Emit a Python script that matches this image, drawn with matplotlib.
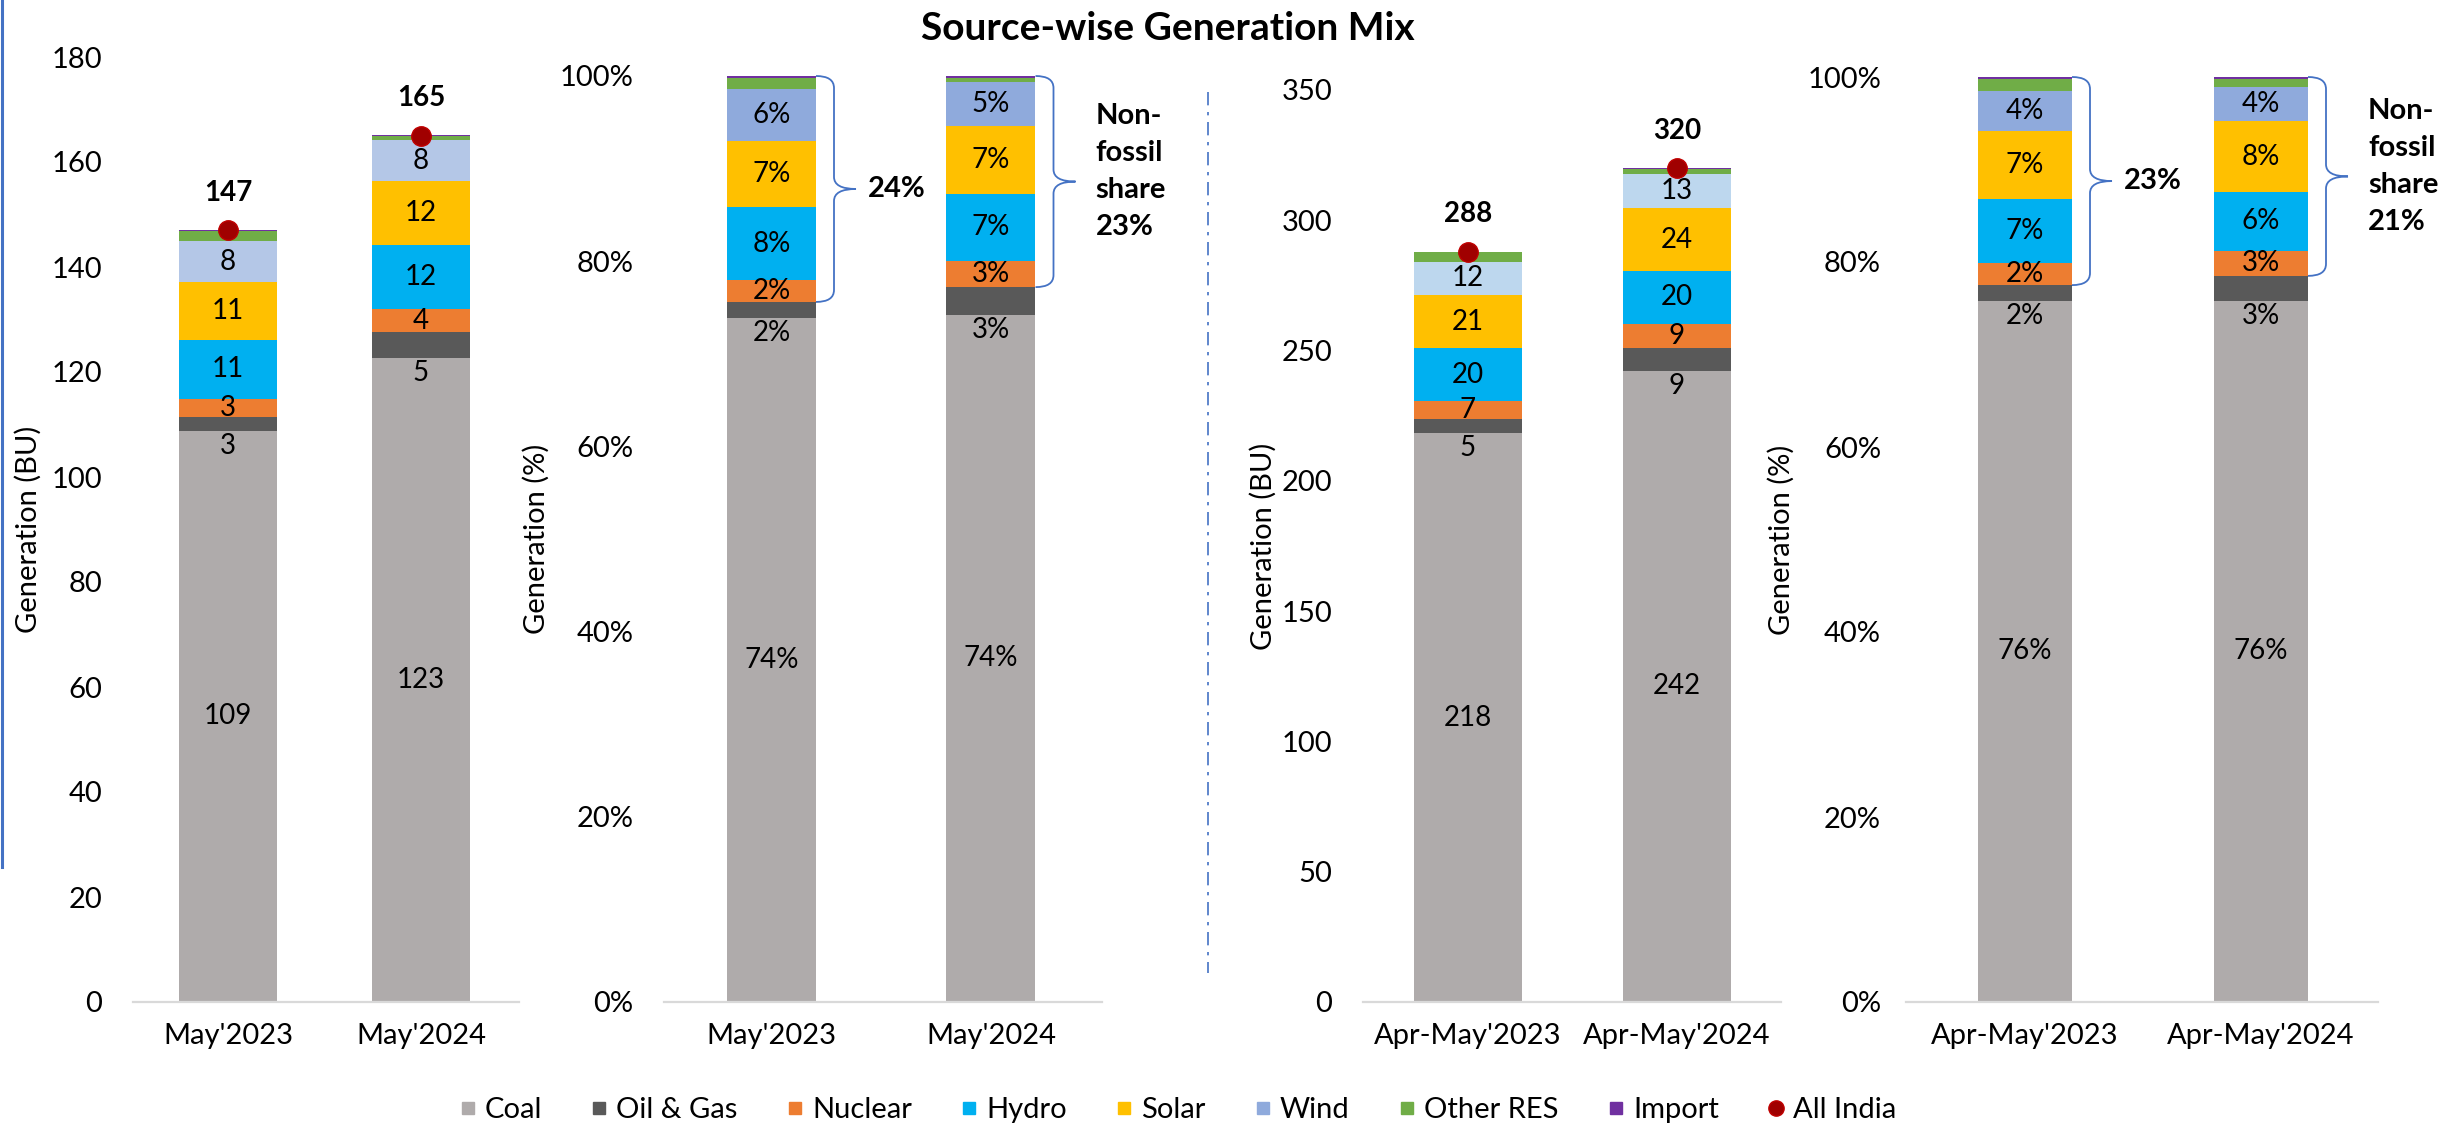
import matplotlib
matplotlib.use("Agg")
import matplotlib.pyplot as plt
from matplotlib.path import Path
from matplotlib.patches import PathPatch
from matplotlib.lines import Line2D
from matplotlib.transforms import IdentityTransform

# ---------------- data ----------------
sources = ["Coal", "Oil & Gas", "Nuclear", "Hydro", "Solar", "Wind", "Other RES", "Import"]
months = ["May'2023", "May'2024"]
ytd = ["Apr-May'2023", "Apr-May'2024"]

# Generation in BU, May
coal_m = [108.8, 122.7]
oil_m = [2.7, 4.9]
nuclear_m = [3.4, 4.4]
hydro_m = [11.2, 12.2]
solar_m = [11.0, 12.1]
wind_m = [7.8, 7.8]
other_m = [1.9, 0.8]
import_m = [0.3, 0.3]
total_m = [147, 165]

# Share in %, May
coal_mp = [73.9, 74.2]
oil_mp = [1.7, 3.0]
nuclear_mp = [2.4, 2.8]
hydro_mp = [7.8, 7.3]
solar_mp = [7.2, 7.3]
wind_mp = [5.6, 4.8]
other_mp = [1.2, 0.4]
import_mp = [0.2, 0.2]
share_m = ["24%", "Non-\nfossil\nshare\n23%"]

# Generation in BU, Apr-May
coal_y = [218.3, 242.3]
oil_y = [5.4, 8.8]
nuclear_y = [6.9, 9.2]
hydro_y = [20.2, 20.2]
solar_y = [20.7, 24.2]
wind_y = [12.4, 13.0]
other_y = [3.8, 2.0]
import_y = [0.3, 0.3]
total_y = [288, 320]

# Share in %, Apr-May
coal_yp = [75.8, 75.8]
oil_yp = [1.7, 2.7]
nuclear_yp = [2.4, 2.7]
hydro_yp = [6.9, 6.4]
solar_yp = [7.4, 7.6]
wind_yp = [4.3, 3.7]
other_yp = [1.3, 0.9]
import_yp = [0.2, 0.2]
share_y = ["23%", "Non-\nfossil\nshare\n21%"]

# ---------------- style ----------------
W, H, DPI = 2450, 1129, 100
plt.rcParams['font.family'] = ['Lato', 'DejaVu Sans']
FS = 21
FSB = 20
colors = {"Coal": "#AFABAB", "Oil & Gas": "#595959", "Nuclear": "#ED7D31", "Hydro": "#00B0F0",
          "Solar": "#FFC000", "Wind": "#8FAADC", "Other RES": "#70AD47", "Import": "#7030A0"}
BLUE = "#4472C4"

fig = plt.figure(figsize=(W / DPI, H / DPI), dpi=DPI)
fig.patch.set_facecolor("white")


def make_axes(x0, x1, ytop, ybot):
    return fig.add_axes([x0 / W, 1 - ybot / H, (x1 - x0) / W, (ybot - ytop) / H])


def brace(ax, xedge, ybot, ytop, dv=18, dt=40, r=12):
    (xe, yb) = ax.transData.transform((xedge, ybot))
    (_, yt) = ax.transData.transform((xedge, ytop))
    xv, xt = xe + dv, xe + dt
    ym = (yt + yb) / 2
    verts = [(xe, yt), (xv, yt), (xv, yt - r), (xv, ym + r), (xv, ym), (xt, ym),
             (xv, ym), (xv, ym - r), (xv, yb + r), (xv, yb), (xe, yb)]
    codes = [Path.MOVETO, Path.CURVE3, Path.CURVE3, Path.LINETO, Path.CURVE3, Path.CURVE3,
             Path.CURVE3, Path.CURVE3, Path.LINETO, Path.CURVE3, Path.CURVE3]
    fig.add_artist(PathPatch(Path(verts, codes), fill=False, ec=BLUE, lw=1.3,
                             transform=IdentityTransform()))
    return xt, ym


panels = [
    dict(px=(133, 519, 57, 1002), centers=(228, 421), barw=98, ylim=180, step=20, pct=False,
         cats=months, wind="#B4C7E7", ylabel="Generation (BU)", ylx=28, pad=22,
         series=[coal_m, oil_m, nuclear_m, hydro_m, solar_m, wind_m, other_m, import_m],
         totals=total_m, shares=None),
    dict(px=(664, 1102, 76, 1002), centers=(771.5, 991), barw=89, ylim=100, step=20, pct=True,
         cats=months, wind="#8FAADC", ylabel="Generation (%)", ylx=536, pad=22,
         series=[coal_mp, oil_mp, nuclear_mp, hydro_mp, solar_mp, wind_mp, other_mp, import_mp],
         totals=None, shares=share_m),
    dict(px=(1363, 1781, 90, 1002), centers=(1468, 1677), barw=108, ylim=350, step=50, pct=False,
         cats=ytd, wind="#BDD7EE", ylabel="Generation (BU)", ylx=1263, pad=22,
         series=[coal_y, oil_y, nuclear_y, hydro_y, solar_y, wind_y, other_y, import_y],
         totals=total_y, shares=None),
    dict(px=(1906, 2378, 77, 1002), centers=(2025, 2261), barw=94, ylim=100, step=20, pct=True,
         cats=ytd, wind="#8FAADC", ylabel="Generation (%)", ylx=1781, pad=18,
         series=[coal_yp, oil_yp, nuclear_yp, hydro_yp, solar_yp, wind_yp, other_yp, import_yp],
         totals=None, shares=share_y),
]

for p in panels:
    x0, x1, ytop, ybot = p["px"]
    ax = make_axes(x0, x1, ytop, ybot)
    c0, c1 = p["centers"]
    unit = c1 - c0
    ax.set_xlim((x0 - c0) / unit, (x1 - c0) / unit)
    ax.set_ylim(0, p["ylim"])
    bw = p["barw"] / unit
    xs = list(range(len(p["cats"])))
    bottoms = [0.0] * len(xs)
    tops = {}
    for name, vals in zip(sources, p["series"]):
        col = p["wind"] if name == "Wind" else colors[name]
        ax.bar(xs, vals, width=bw, bottom=bottoms, color=col, edgecolor="none", zorder=2)
        for i, v in enumerate(vals):
            txt = f"{v:.0f}%" if p["pct"] else f"{v:.0f}"
            if name in ("Coal", "Nuclear", "Hydro", "Solar", "Wind"):
                ax.text(xs[i], bottoms[i] + v / 2, txt, ha="center", va="center",
                        fontsize=FSB, color="black", zorder=3)
            elif name == "Oil & Gas":
                ax.annotate(txt, (xs[i], bottoms[i]), xytext=(0, -11), textcoords="offset points",
                            ha="center", va="center", fontsize=FSB, color="black", zorder=3)
        tops[name] = [b + v for b, v in zip(bottoms, vals)]
        bottoms = tops[name]

    if p["totals"] is not None:
        ax.plot(xs, p["totals"], "o", ls="", ms=14, mfc="#A00000", mec="#C00000", mew=1, zorder=4)
        for i, t in enumerate(p["totals"]):
            ax.annotate(f"{t}", (xs[i], t), xytext=(0, 27), textcoords="offset points",
                        ha="center", va="center", fontsize=FSB, fontweight="bold", zorder=4)

    ticks = list(range(0, p["ylim"] + 1, p["step"]))
    ax.set_yticks(ticks)
    ax.set_yticklabels([f"{t}%" if p["pct"] else f"{t}" for t in ticks])
    ax.set_xticks(xs)
    ax.set_xticklabels(p["cats"])
    ax.tick_params(axis="y", length=0, pad=p["pad"], labelsize=FS)
    ax.tick_params(axis="x", length=0, pad=15, labelsize=FS)
    for s in ("top", "right", "left"):
        ax.spines[s].set_visible(False)
    ax.spines["bottom"].set_color("#D9D9D9")
    ax.spines["bottom"].set_linewidth(1.6)
    ax.patch.set_alpha(0)
    fig.text(p["ylx"] / W, 1 - (ytop + ybot) / 2 / H, p["ylabel"], rotation=90,
             ha="center", va="center", fontsize=FS)

    if p["shares"] is not None:
        for i, lab in enumerate(p["shares"]):
            xt, ym = brace(ax, xs[i] + bw / 2, tops["Oil & Gas"][i], p["ylim"])
            multi = "\n" in lab
            dx = 20 if multi else 12
            dy = 10 if multi else 0
            fig.text((xt + dx) / W, (ym + dy) / H, lab, ha="left", va="center",
                     fontsize=FS, fontweight="bold", linespacing=1.52)

# title
fig.text(1168 / W, 1 - 28 / H, "Source-wise Generation Mix", ha="center", va="center",
         fontsize=28, fontweight="bold")

# separators
fig.add_artist(Line2D([1208 / W, 1208 / W], [1 - 92 / H, 1 - 973 / H], transform=fig.transFigure,
                      color=BLUE, lw=1.2, ls=(0, (8, 4, 2, 4))))
fig.add_artist(Line2D([1.5 / W, 1.5 / W], [1, 1 - 867 / H], transform=fig.transFigure,
                      color=BLUE, lw=2.2))

# legend
handles = [Line2D([], [], marker="s", ls="", color=colors[s], ms=9) for s in sources]
handles.append(Line2D([], [], marker="o", ls="", mfc="#A00000", mec="#C00000", ms=11))
labels = sources + ["All India"]
fig.legend(handles, labels, loc="center", bbox_to_anchor=(1178 / W, 1 - 1110 / H), ncol=9,
           frameon=False, fontsize=FS, handlelength=0.55, handletextpad=0.3, columnspacing=1.7,
           borderpad=0)

fig.savefig("out.png", dpi=DPI, facecolor="white")
